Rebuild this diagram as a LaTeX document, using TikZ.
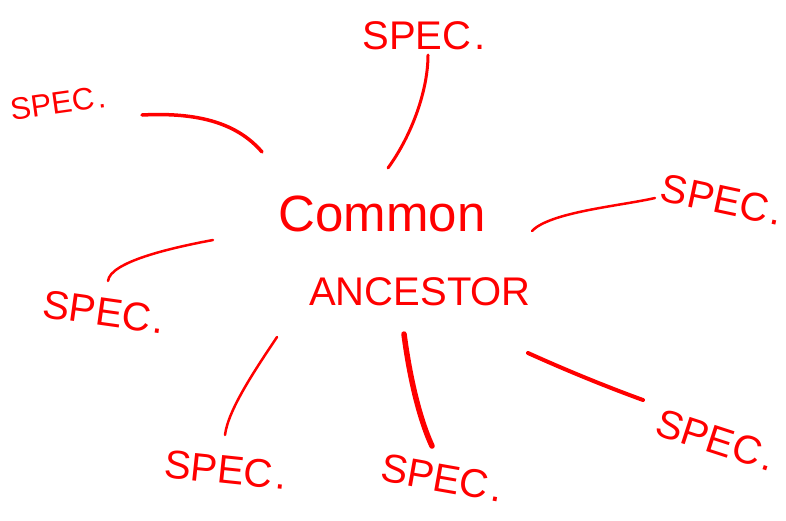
\documentclass[tikz,border=0pt]{standalone}
\usepackage{fontspec}
\setmainfont{Liberation Sans}
\newcommand{\spectxt}{SPEC\hspace{3pt}.}
\begin{document}
\begin{tikzpicture}[x=1pt,y=-1pt,
  ink/.style={draw=red,line width=3pt,line cap=round},
  spec/.style={text=red,inner sep=0pt,font=\fontsize{40}{40}\selectfont},
  title/.style={text=red,inner sep=0pt}]
\useasboundingbox (0,0) rectangle (786,520);
% central text
\node[title,font=\fontsize{51}{51}\selectfont] (common) at (382,214) {Common};
\node[title,font=\fontsize{40}{40}\selectfont] (anc) at (420,292) {ANCESTOR};
% species labels
\node[spec] (s1) at (424,36) {\spectxt};
\node[spec,font=\fontsize{31}{31}\selectfont,rotate=8] (s2) at (58,103) {\spectxt};
\node[spec,rotate=-12] (s3) at (722,200) {\spectxt};
\node[spec,rotate=-8] (s4) at (104,312) {\spectxt};
\node[spec,rotate=-6] (s5) at (226,470) {\spectxt};
\node[spec,rotate=-10] (s6) at (442,478) {\spectxt};
\node[spec,rotate=-18] (s7) at (716,440) {\spectxt};
% line endpoints
\coordinate (a1) at (388,168); \coordinate (b1) at (428,55);
\coordinate (a2) at (262,152); \coordinate (b2) at (142,115);
\coordinate (a3) at (532,231); \coordinate (b3) at (655,198);
\coordinate (a4) at (213,240); \coordinate (b4) at (108,281);
\coordinate (a5) at (277,337); \coordinate (b5) at (225,435);
\coordinate (a6) at (404,334); \coordinate (b6) at (432,446);
\coordinate (a7) at (528,353); \coordinate (b7) at (643,400);
\draw[ink] (a1) .. controls (412,135) and (428,90) .. (b1);
\draw[ink,line width=3.5pt] (b2) .. controls (200,112) and (238,124) .. (a2);
\draw[ink,line width=2.5pt] (a3) .. controls (550,212) and (620,206) .. (b3);
\draw[ink,line width=2.5pt] (a4) .. controls (170,248) and (110,262) .. (b4);
\draw[ink,line width=2.5pt] (a5) .. controls (255,370) and (228,410) .. (b5);
\draw[ink,line width=5.5pt] (a6) .. controls (410,380) and (420,420) .. (b6);
\draw[ink,line width=4pt] (a7) .. controls (570,372) and (610,388) .. (b7);
\end{tikzpicture}
\end{document}
